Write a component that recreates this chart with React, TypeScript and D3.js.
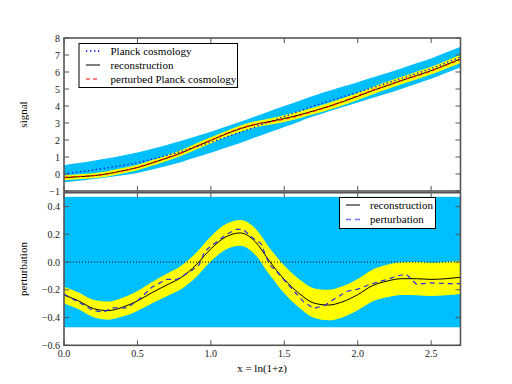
import React from "react"
import { scaleLinear, line, area, curveMonotoneX, range } from "d3"

// reconstruction grid (step 0.1 in x = ln(1+z))
const xs = [0, 0.1, 0.2, 0.3, 0.4, 0.5, 0.6, 0.7, 0.8, 0.9, 1.0, 1.1, 1.2, 1.3, 1.4,
  1.5, 1.6, 1.7, 1.8, 1.9, 2.0, 2.1, 2.2, 2.3, 2.4, 2.5, 2.6, 2.7]

// top panel
const planck = [0.02, 0.12, 0.24, 0.37, 0.51, 0.66, 0.87, 1.09, 1.33, 1.6, 1.87, 2.16, 2.45,
  2.76, 3.07, 3.38, 3.69, 4.0, 4.28, 4.54, 4.8, 5.07, 5.34, 5.62, 5.91, 6.2, 6.54, 6.88]
const planckSpread = [0.5, 0.52, 0.54, 0.56, 0.58, 0.6, 0.61, 0.62, 0.62, 0.62, 0.62, 0.62, 0.62,
  0.62, 0.62, 0.62, 0.61, 0.61, 0.6, 0.6, 0.6, 0.6, 0.6, 0.6, 0.6, 0.6, 0.6, 0.6]
const reconSignal = [-0.22, -0.16, -0.1, 0.02, 0.19, 0.38, 0.65, 0.93, 1.24, 1.62, 1.98, 2.34, 2.66,
  2.91, 3.08, 3.26, 3.47, 3.71, 3.97, 4.26, 4.57, 4.9, 5.2, 5.5, 5.79, 6.08, 6.42, 6.77]
const reconSignalSigma = [0.15, 0.15, 0.15, 0.16, 0.16, 0.16, 0.17, 0.17, 0.17, 0.18, 0.18, 0.18, 0.19,
  0.19, 0.19, 0.2, 0.2, 0.2, 0.21, 0.21, 0.21, 0.22, 0.22, 0.22, 0.23, 0.23, 0.23, 0.24]
const perturbedSignal = [-0.2, -0.15, -0.1, 0.01, 0.18, 0.39, 0.66, 0.95, 1.25, 1.63, 1.99, 2.36, 2.69,
  2.92, 3.07, 3.23, 3.44, 3.69, 3.96, 4.27, 4.6, 4.92, 5.21, 5.52, 5.77, 6.06, 6.4, 6.73]

// bottom panel
const reconPert = [-0.238, -0.28, -0.335, -0.35, -0.325, -0.28, -0.22, -0.165, -0.11, -0.02, 0.095,
  0.18, 0.21, 0.15, 0.005, -0.125, -0.225, -0.295, -0.31, -0.285, -0.235, -0.17, -0.137, -0.12,
  -0.12, -0.125, -0.12, -0.11]
const reconPertSigma = [0.06, 0.061, 0.063, 0.065, 0.068, 0.072, 0.077, 0.081, 0.085, 0.088, 0.09,
  0.092, 0.093, 0.095, 0.097, 0.1, 0.103, 0.107, 0.11, 0.112, 0.113, 0.115, 0.117, 0.118, 0.12,
  0.12, 0.12, 0.12]
const pertPrior = 0.47
const pertX = [0, 0.1, 0.2, 0.27, 0.33, 0.43, 0.5, 0.6, 0.7, 0.77, 0.87, 0.92, 0.96, 1.02, 1.1,
  1.17, 1.22, 1.29, 1.34, 1.4, 1.45, 1.55, 1.63, 1.7, 1.78, 1.85, 1.93, 2.0, 2.1, 2.2, 2.27, 2.33,
  2.4, 2.5, 2.6, 2.7]
const pertY = [-0.23, -0.29, -0.35, -0.36, -0.33, -0.33, -0.28, -0.18, -0.125, -0.125, -0.06,
  -0.02, 0.08, 0.13, 0.195, 0.235, 0.235, 0.17, 0.135, -0.02, -0.07, -0.19, -0.285, -0.335, -0.31,
  -0.26, -0.21, -0.195, -0.155, -0.125, -0.1, -0.087, -0.16, -0.15, -0.155, -0.155]

const xTicks = [0, 0.5, 1.0, 1.5, 2.0, 2.5]
const topTicks = [-1, 0, 1, 2, 3, 4, 5, 6, 7, 8]
const botTicks = [-0.6, -0.4, -0.2, 0.0, 0.2, 0.4]

const font = "'Liberation Serif', 'Times New Roman', serif"
const spine = "#555"
const cyan = "#00bfff"
const yellow = "#ffff00"

const fmt = (v: number, d: number) => (v < 0 ? "\u2212" : "") + Math.abs(v).toFixed(d)

function Frame({ x, y, yTicks, digits, xLabels }: any) {
  const [x0, x1] = x.range()
  const [y0, y1] = y.range()
  return (
    <g>
      <rect x={x0} y={y1} width={x1 - x0} height={y0 - y1} fill="none" stroke={spine} strokeWidth={1.6} />
      {xTicks.map((t) => (
        <g key={"x" + t}>
          <line x1={x(t)} x2={x(t)} y1={y0} y2={y0 - 5} stroke={spine} />
          <line x1={x(t)} x2={x(t)} y1={y1} y2={y1 + 5} stroke={spine} />
          {xLabels && (
            <text x={x(t)} y={y0 + 12} textAnchor="middle" fontSize={10} fill="#222">{t.toFixed(1)}</text>
          )}
        </g>
      ))}
      {yTicks.map((t: number) => (
        <g key={"y" + t}>
          <line x1={x0} x2={x0 + 5} y1={y(t)} y2={y(t)} stroke={spine} />
          <line x1={x1} x2={x1 - 5} y1={y(t)} y2={y(t)} stroke={spine} />
          <text x={x0 - 4} y={y(t)} dy="0.35em" textAnchor="end" fontSize={10} fill="#222">{fmt(t, digits)}</text>
        </g>
      ))}
    </g>
  )
}

export default function App() {
  const x = scaleLinear().domain([0, 2.7]).range([64, 460.5])
  const yTop = scaleLinear().domain([-1, 8]).range([191, 38])
  const yBot = scaleLinear().domain([-0.6, 0.5]).range([345.3, 192.7])

  const idx = range(xs.length)
  const band = (ys: any, c: number[], s: number[]) =>
    area<number>().x((i) => x(xs[i])).y0((i) => ys(c[i] - s[i])).y1((i) => ys(c[i] + s[i])).curve(curveMonotoneX)(idx)
  const curve = (ys: any, c: number[]) =>
    line<number>().x((i) => x(xs[i])).y((i) => ys(c[i])).curve(curveMonotoneX)(idx)
  const pertLine = line<number>().x((i) => x(pertX[i])).y((i) => yBot(pertY[i]))(range(pertX.length))

  return (
    <svg width={512} height={384} style={{ position: "absolute", left: 0, top: 0, background: "#fff" }} fontFamily={font}>
      {/* top panel */}
      <path d={band(yTop, planck, planckSpread) || ""} fill={cyan} />
      <path d={band(yTop, reconSignal, reconSignalSigma) || ""} fill={yellow} />
      <path d={curve(yTop, planck) || ""} fill="none" stroke="#0000ff" strokeWidth={1.3} strokeDasharray="1.3 2.7" />
      <path d={curve(yTop, reconSignal) || ""} fill="none" stroke="#000" strokeWidth={1} />
      <path d={curve(yTop, perturbedSignal) || ""} fill="none" stroke="#ff0000" strokeWidth={1.1} strokeDasharray="4 3" />
      <Frame x={x} y={yTop} yTicks={topTicks} digits={0} xLabels={false} />
      <g fontSize={11}>
        <rect x={79} y={43.5} width={158.5} height={44} fill="#fff" stroke="#000" strokeWidth={1} />
        <line x1={86} x2={100} y1={51} y2={51} stroke="#0000ff" strokeWidth={1.3} strokeDasharray="1.3 2.7" />
        <text x={110.5} y={51} dy="0.33em">Planck cosmology</text>
        <line x1={86} x2={100} y1={65} y2={65} stroke="#000" strokeWidth={1} />
        <text x={110.5} y={65} dy="0.33em">reconstruction</text>
        <line x1={86} x2={100} y1={79} y2={79} stroke="#ff0000" strokeWidth={1.1} strokeDasharray="4 3" />
        <text x={110.5} y={79} dy="0.33em">perturbed Planck cosmology</text>
      </g>
      <text transform="translate(27,114.5) rotate(-90)" textAnchor="middle" fontSize={11}>signal</text>

      {/* bottom panel */}
      <rect x={x(0)} y={yBot(pertPrior)} width={x(2.7) - x(0)} height={yBot(-pertPrior) - yBot(pertPrior)} fill={cyan} />
      <path d={band(yBot, reconPert, reconPertSigma) || ""} fill={yellow} />
      <line x1={x(0)} x2={x(2.7)} y1={yBot(0)} y2={yBot(0)} stroke="#000" strokeWidth={1} strokeDasharray="1 2" />
      <path d={curve(yBot, reconPert) || ""} fill="none" stroke="#000" strokeWidth={1} />
      <path d={pertLine || ""} fill="none" stroke="#2a2ae0" strokeWidth={1.2} strokeDasharray="5 4" />
      <Frame x={x} y={yBot} yTicks={botTicks} digits={1} xLabels={true} />
      <g fontSize={11}>
        <rect x={339.5} y={197.5} width={96} height={31} fill="#fff" stroke="#000" strokeWidth={1} />
        <line x1={346} x2={360} y1={205} y2={205} stroke="#000" strokeWidth={1} />
        <text x={370} y={205} dy="0.33em">reconstruction</text>
        <line x1={346} x2={360} y1={219.5} y2={219.5} stroke="#6f6fff" strokeWidth={1.4} strokeDasharray="5 4" />
        <text x={370} y={219.5} dy="0.33em">perturbation</text>
      </g>
      <text transform="translate(27,269) rotate(-90)" textAnchor="middle" fontSize={11}>perturbation</text>
      <text x={262} y={372} textAnchor="middle" fontSize={11}>x = ln(1+z)</text>
    </svg>
  )
}
